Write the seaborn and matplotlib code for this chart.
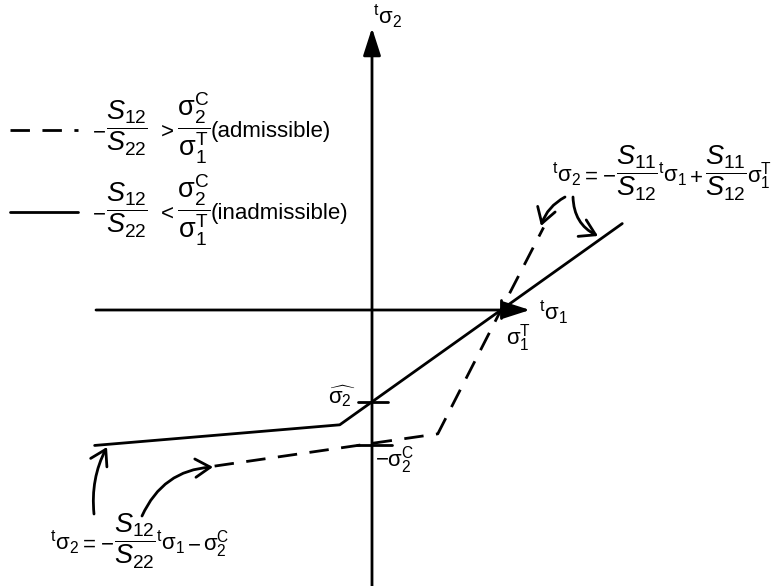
import matplotlib
matplotlib.use("Agg")
import matplotlib.pyplot as plt
import seaborn as sns

sns.set_theme(style="white")
plt.rcParams["font.family"] = ["Liberation Sans", "DejaVu Sans"]
plt.rcParams["text.color"] = "black"
plt.rcParams["mathtext.fontset"] = "custom"
plt.rcParams["mathtext.rm"] = "Liberation Sans"
plt.rcParams["mathtext.it"] = "Liberation Sans:italic"
plt.rcParams["mathtext.bf"] = "Liberation Sans:bold"

# Failure envelope in (t_sigma1, t_sigma2), normalised so sigma1^T = 1
solid_x = [-2.15, -0.25, 1.00, 1.94]
solid_y = [-1.05, -0.89, 0.00, 0.67]
dashed_x = [-1.22, 0.51, 1.00, 1.33]
dashed_y = [-1.21, -0.96, 0.00, 0.64]

sigma1_T = 1.00
sigma2_hat = -0.713
sigma2_C = -1.047

SCALE = 129.0          # pixels per unit
OX, OY = 372.0, 310.0  # origin in pixels
W, H = 778, 586


def P(px, py):
    return ((px - OX) / SCALE, (OY - py) / SCALE)


fig = plt.figure(figsize=(W / 100, H / 100), dpi=100)
ax = fig.add_axes([0, 0, 1, 1])
ax.set_xlim(P(0, 0)[0], P(W, 0)[0])
ax.set_ylim(P(0, H)[1], P(0, 0)[1])
ax.axis("off")
renderer = fig.canvas.get_renderer()

LW = 2.0
DASH = (0, (7, 4.5))

# coordinate axes with filled arrow heads
axis_arrow = dict(arrowstyle="-|>,head_length=1.4,head_width=0.45",
                  color="black", lw=LW, shrinkA=0, shrinkB=0)
ax.annotate("", xy=P(530, 310), xytext=P(96, 310), arrowprops=axis_arrow)
ax.annotate("", xy=P(372, 28), xytext=P(372, 590), arrowprops=axis_arrow)

# envelopes
sns.lineplot(x=solid_x, y=solid_y, sort=False, color="black", lw=LW, ax=ax)
sns.lineplot(x=dashed_x, y=dashed_y, sort=False, color="black", lw=LW,
             linestyle=DASH, ax=ax)

# ticks at intercepts
ax.plot([sigma1_T, sigma1_T], [0.08, -0.065], color="black", lw=LW)
ax.plot([-0.11, 0.125], [sigma2_hat, sigma2_hat], color="black", lw=LW)
ax.plot([-0.115, 0.155], [sigma2_C, sigma2_C], color="black", lw=LW)

FS = 16     # running text
FF = 19.5   # fractions
S = r"\mathrm{\sigma}"
TT = r"^{\mathrm{t}}"


def chain(x_px, base_px, pieces):
    """Lay out text pieces of mixed sizes left to right on one baseline."""
    x = x_px
    for s, fs, gap in pieces:
        t = fig.text(x / W, 1 - base_px / H, s, fontsize=fs,
                     ha="left", va="baseline")
        x += t.get_window_extent(renderer).width + gap


# key
kx0, ky0 = P(10, 130)
kx1, _ = P(78, 130)
ax.plot([kx0, kx1], [ky0, ky0], color="black", lw=LW, linestyle=DASH)
_, ky1 = P(10, 212)
ax.plot([kx0, kx1], [ky1, ky1], color="black", lw=LW)

frac_s = r"$\dfrac{S_{12}}{S_{22}}$"
frac_sig = r"$\dfrac{%s_2^{\mathrm{C}}}{%s_1^{\mathrm{T}}}$" % (S, S)
chain(92, 137, [("$-$", FS, 0), (frac_s, FF, 9), ("$>$", FS, 2),
                (frac_sig, FF, 1), ("(admissible)", FS, 0)])
chain(92, 219, [("$-$", FS, 0), (frac_s, FF, 9), ("$<$", FS, 2),
                (frac_sig, FF, 1), ("(inadmissible)", FS, 0)])

# axis labels
ax.text(*P(373, 16), r"$%s%s_2$" % (TT, S), fontsize=FS, ha="left", va="center")
ax.text(*P(539, 312), r"$%s%s_1$" % (TT, S), fontsize=FS, ha="left", va="center")

# intercept labels
ax.text(*P(506, 338), r"$%s_1^{\mathrm{T}}$" % S, fontsize=FS, ha="left", va="center")
ax.text(*P(356, 396), r"$\widehat{%s_2}$" % S, fontsize=FS, ha="right", va="center")
ax.text(*P(375, 460), r"$-%s_2^{\mathrm{C}}$" % S, fontsize=FS, ha="left", va="center")

# branch equations
frac11 = r"$\dfrac{S_{11}}{S_{12}}$"
chain(552, 182, [(r"$%s%s_2$" % (TT, S), FS, 0), (r"$=\!-$", FS, 0),
                 (frac11, FF, 0), (r"$%s%s_1$" % (TT, S), FS, 2),
                 (r"$+$", FS, 2), (frac11, FF, 0),
                 (r"$%s_1^{\mathrm{T}}$" % S, FS, 0)])
chain(50, 550, [(r"$%s%s_2$" % (TT, S), FS, 0), (r"$=\!-$", FS, 0),
                (frac_s, FF, 0), (r"$%s%s_1$" % (TT, S), FS, 2),
                (r"$-$", FS, 2), (r"$%s_2^{\mathrm{C}}$" % S, FS, 0)])

# pointer arrows
ptr = dict(arrowstyle="->,head_length=0.9,head_width=0.55", color="black",
           lw=LW, shrinkA=0, shrinkB=0)
ax.annotate("", xy=P(107, 447), xytext=P(94, 514),
            arrowprops=dict(ptr, connectionstyle="arc3,rad=-0.15"))
ax.annotate("", xy=P(213, 467), xytext=P(142, 516),
            arrowprops=dict(ptr, connectionstyle="arc3,rad=-0.3"))
ax.annotate("", xy=P(541, 226), xytext=P(565, 197),
            arrowprops=dict(ptr, connectionstyle="arc3,rad=0.2"))
ax.annotate("", xy=P(598, 236), xytext=P(573, 197),
            arrowprops=dict(ptr, connectionstyle="arc3,rad=0.3"))

fig.savefig("out.png", dpi=100, facecolor="white")
